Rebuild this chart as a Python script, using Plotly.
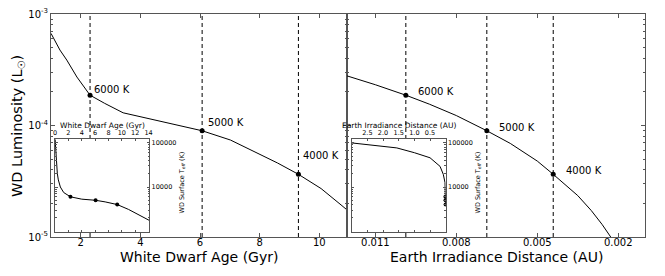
import math
import plotly.graph_objects as go

# ---------------- data ----------------
# main left panel: WD luminosity vs white dwarf age
age_gyr = [1.0, 1.30, 1.53, 1.87, 2.31, 2.8, 3.42, 4.5, 6.07, 7.02, 7.70, 8.6, 9.30, 10.06, 10.73, 10.93]
lum_age = [6.7e-4, 4.75e-4, 3.86e-4, 2.72e-4, 1.87e-4, 1.58e-4, 1.30e-4, 1.12e-4, 8.97e-5,
           7.41e-5, 6.03e-5, 4.61e-5, 3.65e-5, 2.72e-5, 1.94e-5, 1.75e-5]

# main right panel: WD luminosity vs Earth irradiance distance
dist_au = [0.01205, 0.0110, 0.00987, 0.0090, 0.0080, 0.00687, 0.0060, 0.0050, 0.00441,
           0.0035, 0.0030, 0.0026, 0.00228]
lum_dist = [2.786e-4, 2.321e-4, 1.87e-4, 1.554e-4, 1.228e-4, 8.97e-5, 6.906e-5, 4.796e-5,
            3.65e-5, 2.35e-5, 1.727e-5, 1.297e-5, 1.0e-5]

# temperature markers
temp_labels = ["6000 K", "5000 K", "4000 K"]
temp_teff = [6000, 5000, 4000]
temp_age = [2.31, 6.07, 9.30]
temp_lum = [1.87e-4, 8.97e-5, 3.65e-5]
temp_dist = [0.00987, 0.00687, 0.00441]

# inset left: surface temperature vs age
inset_age = [0.02, 0.1, 0.2, 0.35, 0.5, 0.8, 1.3, 2.31, 4.0, 6.07, 7.5, 9.30, 11.0, 12.5, 14.1]
inset_teff_age = [1.2e5, 7e4, 3.5e4, 2e4, 1.45e4, 1.0e4, 7.5e3, 6.0e3, 5.3e3, 5.0e3, 4.6e3,
                  4.0e3, 3.1e3, 2.4e3, 1.75e3]

# inset right: surface temperature vs irradiance distance
inset_dist = [3.0, 2.5, 2.0, 1.56, 1.0, 0.5, 0.18, 0.077, 0.022, 0.00987, 0.00687, 0.00441, 0.0035]
inset_teff_dist = [1.0e5, 9.15e4, 8.3e4, 7.7e4, 6.0e4, 4.6e4, 2.94e4, 1.94e4, 1.26e4,
                   6000, 5000, 4000, 3700]

# tick labels
age_ticks = [2, 4, 6, 8, 10]
dist_ticks = [0.011, 0.008, 0.005, 0.002]
dist_ticktext = ["0.011", "0.008", "0.005", "0.002"]
lum_ticks = [1e-5, 1e-4, 1e-3]
lum_ticktext = ["10<sup>-5</sup>", "10<sup>-4</sup>", "10<sup>-3</sup>"]
inset_age_ticks = [0, 2, 4, 6, 8, 10, 12, 14]
inset_dist_ticks = [2.5, 2.0, 1.5, 1.0, 0.5]
inset_dist_ticktext = ["2.5", "2.0", "1.5", "1.0", "0.5"]
teff_ticks = [1e4, 1e5]
teff_ticktext = ["10000", "100000"]

# ---------------- figure ----------------
# the page body has an 8px default margin, so the figure is 8px smaller than the window
OFF = 8
W, H = 665 - OFF, 276 - OFF
FONT = "DejaVu Sans"
AX = "#555555"
BLACK = "#000000"


def fx(a):
    return (a - OFF) / W


def fy(y):
    return 1 - (y - OFF) / H


def px_x(a, b):
    return [fx(a), fx(b)]


def px_y(top, bottom):
    return [fy(bottom), fy(top)]


fig = go.Figure()

line_style = dict(color=BLACK, width=1)
dash_style = dict(color=BLACK, width=1, dash="4px,3px")
mk = dict(color=BLACK, size=5)

# dashed temperature lines (main panels)
for a in temp_age:
    fig.add_trace(go.Scatter(x=[a, a], y=[lum_ticks[0], lum_ticks[-1]], mode="lines",
                             line=dash_style, xaxis="x", yaxis="y", hoverinfo="skip"))
for d in temp_dist:
    fig.add_trace(go.Scatter(x=[d, d], y=[lum_ticks[0], lum_ticks[-1]], mode="lines",
                             line=dash_style, xaxis="x2", yaxis="y2", hoverinfo="skip"))

fig.add_trace(go.Scatter(x=age_gyr, y=lum_age, mode="lines", line=line_style, xaxis="x", yaxis="y"))
fig.add_trace(go.Scatter(x=temp_age, y=temp_lum, mode="markers", marker=mk, xaxis="x", yaxis="y"))
fig.add_trace(go.Scatter(x=dist_au, y=lum_dist, mode="lines", line=line_style, xaxis="x2", yaxis="y2"))
fig.add_trace(go.Scatter(x=temp_dist, y=temp_lum, mode="markers", marker=mk, xaxis="x2", yaxis="y2"))

# insets
fig.add_trace(go.Scatter(x=inset_age, y=inset_teff_age, mode="lines", line=line_style, xaxis="x3", yaxis="y3"))
fig.add_trace(go.Scatter(x=temp_age, y=temp_teff, mode="markers", marker=dict(color=BLACK, size=4),
                         xaxis="x3", yaxis="y3"))
fig.add_trace(go.Scatter(x=inset_dist, y=inset_teff_dist, mode="lines", line=line_style, xaxis="x4", yaxis="y4"))
fig.add_trace(go.Scatter(x=temp_dist, y=temp_teff, mode="markers", marker=dict(color=BLACK, size=4),
                         xaxis="x4", yaxis="y4"))

lum_minor = [k * 10 ** e for e in (-5, -4) for k in range(2, 10)]
teff_minor = [k * 10 ** e for e in (3, 4) for k in range(2, 10)]

common = dict(showline=True, linecolor=AX, linewidth=1, mirror="ticks", ticks="inside",
              tickcolor=AX, showgrid=False, zeroline=False, ticklen=4, automargin=False,
              ticklabeloverflow="allow",
              tickfont=dict(family=FONT, size=10, color=BLACK))
inset_common = dict(showline=True, linecolor=AX, linewidth=1, mirror="ticks", ticks="inside",
                    tickcolor=AX, showgrid=False, zeroline=False, ticklen=2.5, automargin=False,
                    ticklabeloverflow="allow",
                    tickfont=dict(family=FONT, size=6.5, color=BLACK))

fig.update_layout(
    template="simple_white",
    width=W, height=H, autosize=False, showlegend=False,
    margin=dict(l=0, r=0, t=0, b=0, autoexpand=False),
    paper_bgcolor="white", plot_bgcolor="white",
    font=dict(family=FONT, color=BLACK),
    xaxis=dict(domain=px_x(51, 347), range=[1.0, 10.93], tickvals=age_ticks, anchor="y",
               ticklabelstandoff=-4, **common),
    yaxis=dict(domain=px_y(14, 237), type="log", range=[-5, -3], tickvals=lum_ticks,
               ticktext=lum_ticktext, anchor="x",
               minor=dict(tickvals=lum_minor, ticks="inside", ticklen=2, tickcolor=AX), **common),
    xaxis2=dict(domain=px_x(347, 645), range=[0.01205, 0.00101], tickvals=dist_ticks,
                ticktext=dist_ticktext, anchor="y2", ticklabelstandoff=-4, **common),
    yaxis2=dict(domain=px_y(14, 237), type="log", range=[-5, -3], tickvals=lum_ticks,
                showticklabels=False, anchor="x2",
                minor=dict(tickvals=lum_minor, ticks="inside", ticklen=2, tickcolor=AX), **common),
    xaxis3=dict(domain=px_x(55, 149.3), range=[0, 14.1], tickvals=inset_age_ticks, anchor="y3", side="top",
                **inset_common),
    yaxis3=dict(domain=px_y(138.5, 232), type="log", range=[2.98, 5.1], tickvals=teff_ticks,
                ticktext=teff_ticktext, anchor="x3", side="right",
                minor=dict(tickvals=teff_minor, ticks="inside", ticklen=1.5, tickcolor=AX), **inset_common),
    xaxis4=dict(domain=px_x(351.7, 445.7), range=[3.0, 0.0], tickvals=inset_dist_ticks,
                ticktext=inset_dist_ticktext, anchor="y4", side="top", **inset_common),
    yaxis4=dict(domain=px_y(138.5, 232), type="log", range=[2.98, 5.1], tickvals=teff_ticks,
                ticktext=teff_ticktext, anchor="x4", side="right",
                minor=dict(tickvals=teff_minor, ticks="inside", ticklen=1.5, tickcolor=AX), **inset_common),
)


def note(text, x, y, size, angle=0):
    fig.add_annotation(x=fx(x), y=fy(y), xref="paper", yref="paper", text=text, showarrow=False,
                       textangle=angle, xanchor="center", yanchor="middle",
                       font=dict(family=FONT, size=size, color=BLACK))


# axis titles
note("White Dwarf Age (Gyr)", 199, 257, 14)
note("Earth Irradiance Distance (AU)", 496, 257, 14)
note("WD Luminosity (L<sub>☉</sub>)", 18, 126, 14.5, -90)
note("White Dwarf Age (Gyr)", 102, 125.5, 7.5)
note("Earth Irradiance Distance (AU)", 399, 125.5, 7.5)
note("WD Surface T<sub><i>eff</i></sub> (K)", 181.5, 183, 6.5, -90)
note("WD Surface T<sub><i>eff</i></sub> (K)", 477.5, 183, 6.5, -90)

# temperature labels
left_shift = [(2, 6), (4, 8), (3, 19)]
right_shift = [(10, 4), (10, 3), (11, 4)]
for lab, a, d, L, s1, s2 in zip(temp_labels, temp_age, temp_dist, temp_lum, left_shift, right_shift):
    fig.add_annotation(x=a, y=math.log10(L), xref="x", yref="y", text=lab, showarrow=False,
                       xanchor="left", yanchor="middle", xshift=s1[0], yshift=s1[1],
                       font=dict(family=FONT, size=10, color=BLACK))
    fig.add_annotation(x=d, y=math.log10(L), xref="x2", yref="y2", text=lab, showarrow=False,
                       xanchor="left", yanchor="middle", xshift=s2[0], yshift=s2[1],
                       font=dict(family=FONT, size=10, color=BLACK))

fig.write_html("out.html")
